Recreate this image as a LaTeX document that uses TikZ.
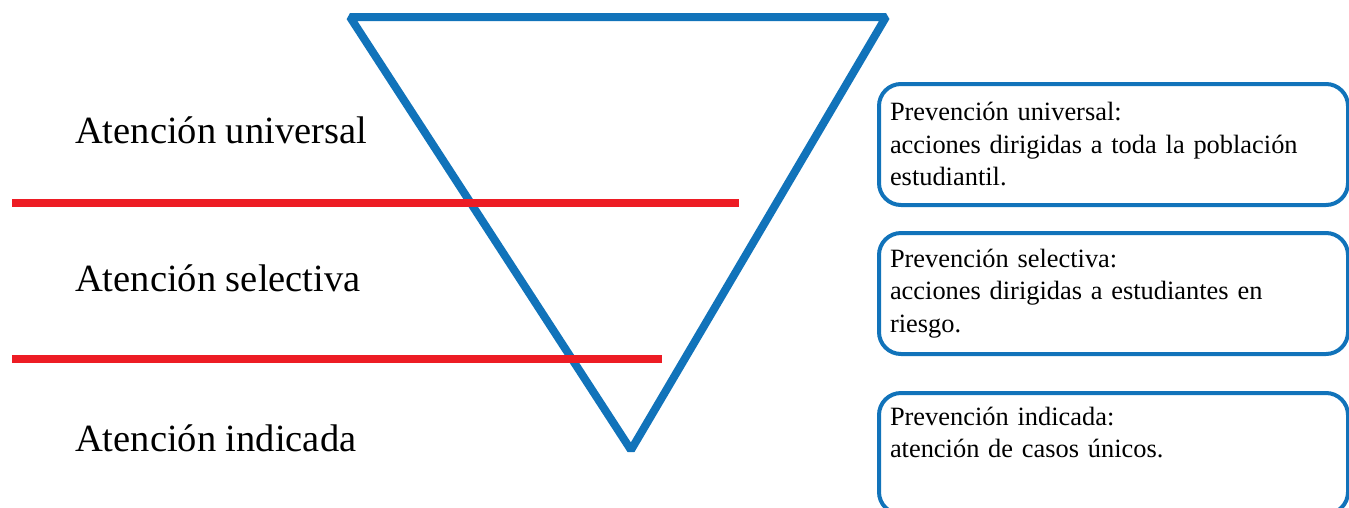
\documentclass[tikz,border=0pt]{standalone}
\usepackage{fontspec}
\setmainfont{Liberation Serif}
\usepackage{xcolor}
\usepackage{tikz}
\usetikzlibrary{calc, positioning}

\begin{document}
\begin{tikzpicture}[x=1pt, y=-1pt,
    nivel/.style={anchor=base west, inner sep=0pt, font=\fontsize{38.5}{46}\selectfont},
    caja/.style={draw=azul, line width=4pt, rounded corners=22pt, anchor=north west,
        text width=447pt, inner xsep=11pt, inner ysep=0pt, minimum height=121pt,
        align=left, font=\fontsize{26.4}{32.5}\selectfont}]
    % Colores
    \definecolor{azul}{RGB}{17, 115, 186}
    \definecolor{rojo}{RGB}{237, 28, 36}
    \useasboundingbox (0,0) rectangle (1349,507);

    % 1. Triángulo invertido
    \coordinate (topL) at (350,17);
    \coordinate (topR) at (886,17);
    \coordinate (fondo) at (631,450);
    \draw[azul, line width=8pt, line join=bevel] (topL) -- (topR) -- (fondo) -- cycle;

    % 2. Líneas rojas de separación
    \draw[rojo, line width=7.5pt] (12,203) -- (739,203);
    \draw[rojo, line width=7.5pt] (12,359) -- (662,359);

    % 3. Niveles de atención
    \node[nivel] (universal) at (75,143) {Atención universal};
    \node[nivel] (selectiva) at (75,291) {Atención selectiva};
    \node[nivel] (indicada) at (75,451) {Atención indicada};

    % 4. Cajas de prevención
    \node[caja] (prevUniv) at (877,82)
        {Prevención universal:\\acciones dirigidas a toda la población\\estudiantil.};
    \node[caja] (prevSel) at (877,231)
        {Prevención selectiva:\\acciones dirigidas a estudiantes en\\riesgo.};
    \node[caja] (prevInd) at (877,391)
        {Prevención indicada:\\atención de casos únicos.\\\strut};
\end{tikzpicture}
\end{document}
